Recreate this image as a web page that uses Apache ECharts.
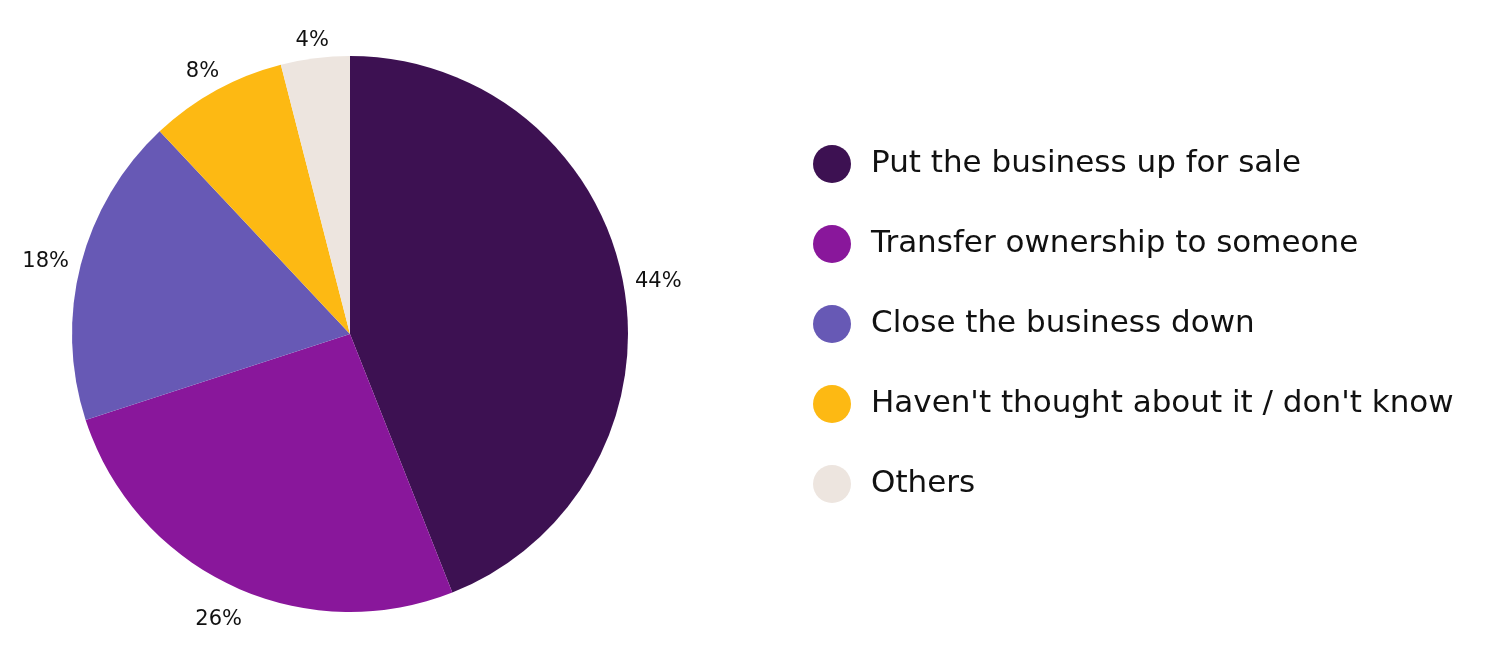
<!DOCTYPE html>
<html><head><meta charset="utf-8">
<script src="https://cdn.jsdelivr.net/npm/echarts@6/dist/echarts.min.js"></script>
<style>html,body{margin:0;padding:0;background:#fff}#c{width:1500px;height:650px}</style>
</head><body><div id="c"></div>
<script>
const categories = ["Put the business up for sale","Transfer ownership to someone","Close the business down","Haven't thought about it / don't know","Others"];
const values = [44, 26, 18, 8, 4];
const colors = ["#3d1152","#89179b","#6759b5","#fdb913","#ede5df"];
const FONT = "'DejaVu Sans', sans-serif";
const CX = 350, CY = 334, R = 278, GAP = 11, BASE_SHIFT = 6;
const total = values.reduce((a,b)=>a+b,0);
function midAngle(i){ // clockwise from top, radians
  let s = 0; for (let k=0;k<i;k++) s += values[k];
  return (s + values[i]/2) / total * 2 * Math.PI;
}
const chart = echarts.init(document.getElementById('c'));
chart.setOption({
  animation:false,
  color: colors,
  legend:{
    orient:'vertical', left:808, top:140,
    icon:'circle', itemWidth:38, itemHeight:38, itemGap:42,
    textStyle:{fontFamily:FONT, fontSize:31, color:'#111', padding:[0,0,0,15]},
    data: categories
  },
  series:[{
    type:'pie', center:[CX,CY], radius:R, startAngle:90, clockwise:true,
    label:{show:true, position:'outside', formatter:'{c}%', fontFamily:FONT, fontSize:21, color:'#111'},
    labelLine:{show:false, length:10, length2:0},
    labelLayout: function(p){
      const a = midAngle(p.dataIndex);
      const dx = Math.sin(a), dy = -Math.cos(a);
      const hw = p.labelRect.width/2, hh = p.labelRect.height/2;
      const d = R + GAP + hw*Math.abs(dx) + hh*Math.abs(dy);
      return {x: CX + dx*d, y: CY + dy*d + BASE_SHIFT, align:'center', verticalAlign:'middle'};
    },
    itemStyle:{borderWidth:0},
    data: categories.map((n,i)=>({name:n, value:values[i]}))
  }]
});
</script></body></html>
